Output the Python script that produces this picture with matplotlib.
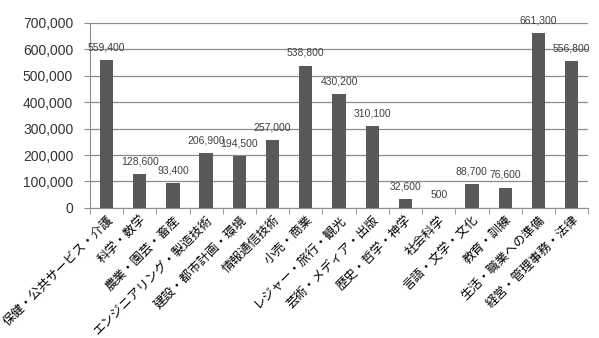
import matplotlib
matplotlib.use("Agg")
import matplotlib.pyplot as plt
from matplotlib.ticker import FuncFormatter, FixedLocator

plt.rcParams['font.family'] = ['Noto Sans CJK JP', 'DejaVu Sans']

categories = ["保健・公共サービス・介護", "科学・数学", "農業・園芸・畜産", "エンジニアリング・製造技術",
              "建設・都市計画・環境", "情報通信技術", "小売・商業", "レジャー・旅行・観光",
              "芸術・メディア・出版", "歴史・哲学・神学", "社会科学", "言語・文学・文化",
              "教育・訓練", "生活・職業への準備", "経営・管理事務・法律"]
values = [559400, 128600, 93400, 206900, 194500, 257000, 538800, 430200,
          310100, 32600, 500, 88700, 76600, 661300, 556800]
yticks = [0, 100000, 200000, 300000, 400000, 500000, 600000, 700000]

fig = plt.figure(figsize=(5.99, 3.38), dpi=100)
ax = fig.add_axes([0.150, 0.385, 0.832, 0.547])

x = list(range(len(categories)))
ax.bar(x, values, width=0.4, color='#595959', zorder=3)
for xi, v in zip(x, values):
    ax.annotate(f"{v:,}", (xi, v), xytext=(0, 5.5), textcoords='offset points',
                ha='center', va='bottom', fontsize=7.5, color='#404040',
                family=['Liberation Sans', 'DejaVu Sans'])

ax.set_xlim(-0.5, len(categories) - 0.5)
ax.set_ylim(0, 700000)
ax.set_yticks(yticks)
ax.yaxis.set_major_formatter(FuncFormatter(lambda v, p: f"{int(v):,}"))
ax.yaxis.grid(True, color='#8c8c8c', linewidth=0.9, zorder=0)
ax.set_xticks(x)
ax.set_xticklabels(categories, rotation=45, ha='right', rotation_mode='anchor', fontsize=9)
ax.tick_params(axis='x', length=0, pad=4)
ax.xaxis.set_minor_locator(FixedLocator([i - 0.5 for i in range(len(categories) + 1)]))
ax.tick_params(axis='x', which='minor', length=4, color='#8c8c8c')
ax.tick_params(axis='y', length=4, color='#8c8c8c', labelsize=10, labelcolor='#333333', pad=8)
for lbl in ax.get_yticklabels():
    lbl.set_family(['Liberation Sans', 'DejaVu Sans'])
for s in ['top', 'right']:
    ax.spines[s].set_visible(False)
ax.spines['left'].set_color('#8c8c8c')
ax.spines['bottom'].set_color('#8c8c8c')

fig.savefig("out.png", dpi=100)
